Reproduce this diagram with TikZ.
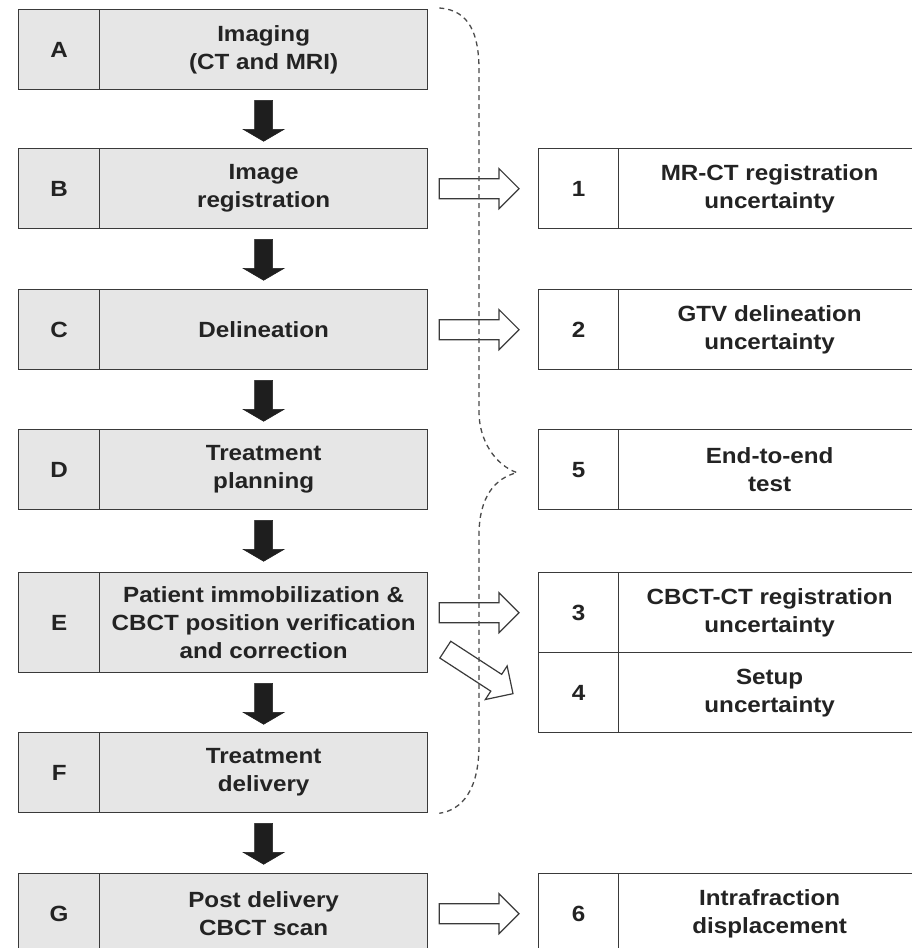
\documentclass[tikz,border=0pt]{standalone}
\usepackage{fontspec}
\newfontfamily\boxfont{Liberation Sans}[FakeStretch=1.1]
\usetikzlibrary{calc}
\definecolor{boxgray}{RGB}{230,230,230}
\definecolor{bordercol}{RGB}{58,58,58}
\definecolor{textcol}{RGB}{35,35,35}
\definecolor{arrowdark}{RGB}{30,30,30}
\definecolor{bracecol}{RGB}{75,75,75}
\newcommand\fatarrow[6]{%
  \coordinate (fa-h) at ($(#2)!#5!(#1)$);
  \draw[#6] ($(#1)!#3!90:(#2)$) -- ($(fa-h)!#3!90:(#2)$) -- ($(fa-h)!#4!90:(#2)$) -- (#2)
    -- ($(fa-h)!#4!-90:(#2)$) -- ($(fa-h)!#3!-90:(#2)$) -- ($(#1)!#3!-90:(#2)$) -- cycle;
}
\tikzset{
  cellbase/.style={draw=bordercol, line width=1.3pt, text=textcol, align=center,
    anchor=north west, inner sep=2pt,
    font=\boxfont\bfseries\fontsize{22pt}{28pt}\selectfont},
  lcell/.style={cellbase, fill=boxgray},
  rcell/.style={cellbase, fill=white},
  darkarrow/.style={fill=arrowdark, draw=arrowdark, line width=0.5pt},
  hollowarrow/.style={fill=white, draw=bordercol, line width=1.2pt, line join=miter},
  bracestyle/.style={draw=bracecol, line width=1.3pt, dash pattern=on 5pt off 4pt}
}
\begin{document}
\begin{tikzpicture}[x=1pt, y=-1pt]
\useasboundingbox[fill=white] (0,0) rectangle (912,948);

% left column
\node[lcell, minimum width=81pt, minimum height=80pt] (Al) at (18,9) {A};
\node[lcell, minimum width=328pt, minimum height=80pt] (A) at (99,9) {Imaging\\(CT and MRI)};
\node[lcell, minimum width=81pt, minimum height=80pt] (Bl) at (18,148) {B};
\node[lcell, minimum width=328pt, minimum height=80pt] (B) at (99,148) {Image\\registration};
\node[lcell, minimum width=81pt, minimum height=80pt] (Cl) at (18,289) {C};
\node[lcell, minimum width=328pt, minimum height=80pt] (C) at (99,289) {Delineation};
\node[lcell, minimum width=81pt, minimum height=80pt] (Dl) at (18,429) {D};
\node[lcell, minimum width=328pt, minimum height=80pt] (D) at (99,429) {Treatment\\planning};
\node[lcell, minimum width=81pt, minimum height=100pt] (El) at (18,572) {E};
\node[lcell, minimum width=328pt, minimum height=100pt] (E) at (99,572) {Patient immobilization \&\\CBCT position verification\\and correction};
\node[lcell, minimum width=81pt, minimum height=80pt] (Fl) at (18,732) {F};
\node[lcell, minimum width=328pt, minimum height=80pt] (F) at (99,732) {Treatment\\delivery};
\node[lcell, minimum width=81pt, minimum height=80pt] (Gl) at (18,873) {G};
\node[lcell, minimum width=328pt, minimum height=80pt] (G) at (99,873) {Post delivery\\CBCT scan};

% right column
\node[rcell, minimum width=80pt, minimum height=80pt] (n1) at (538,148) {1};
\node[rcell, minimum width=302pt, minimum height=80pt] (t1) at (618,148) {MR-CT registration\\uncertainty};
\node[rcell, minimum width=80pt, minimum height=80pt] (n2) at (538,289) {2};
\node[rcell, minimum width=302pt, minimum height=80pt] (t2) at (618,289) {GTV delineation\\uncertainty};
\node[rcell, minimum width=80pt, minimum height=80pt] (n5) at (538,429) {5};
\node[rcell, minimum width=302pt, minimum height=80pt] (t5) at (618,429) {End-to-end\\test};
\node[rcell, minimum width=80pt, minimum height=80pt] (n3) at (538,572) {3};
\node[rcell, minimum width=302pt, minimum height=80pt] (t3) at (618,572) {CBCT-CT registration\\uncertainty};
\node[rcell, minimum width=80pt, minimum height=80pt] (n4) at (538,652) {4};
\node[rcell, minimum width=302pt, minimum height=80pt] (t4) at (618,652) {Setup\\uncertainty};
\node[rcell, minimum width=80pt, minimum height=80pt] (n6) at (538,873) {6};
\node[rcell, minimum width=302pt, minimum height=80pt] (t6) at (618,873) {Intrafraction\\displacement};

% dark flow arrows
\foreach \u/\v in {A/B, B/C, C/D, D/E, E/F, F/G} {
  \coordinate (tl-\u) at ($(\u.south)+(0,10)$);
  \coordinate (tp-\u) at ($(tl-\u)+(0,41)$);
  \fatarrow{tl-\u}{tp-\u}{9pt}{20.5pt}{12pt}{darkarrow}
}

% hollow arrows
\coordinate (hB1) at ($(B.east)+(11,0)$);
\coordinate (hB2) at ($(n1.west)+(-19,0)$);
\fatarrow{hB1}{hB2}{10pt}{20pt}{20pt}{hollowarrow}
\coordinate (hC1) at ($(C.east)+(11,0)$);
\coordinate (hC2) at ($(n2.west)+(-19,0)$);
\fatarrow{hC1}{hC2}{10pt}{20pt}{20pt}{hollowarrow}
\coordinate (hE2) at ($(n3.west)+(-19,0)$);
\coordinate (hE1) at ($(E.east |- hE2)+(11,0)$);
\fatarrow{hE1}{hE2}{10pt}{20pt}{20pt}{hollowarrow}
\coordinate (hD1) at ($(E.east)+(17,27)$);
\coordinate (hD2) at ($(n4.west)+(-25,1)$);
\fatarrow{hD1}{hD2}{10pt}{20pt}{20pt}{hollowarrow}
\coordinate (hG1) at ($(G.east)+(11,0)$);
\coordinate (hG2) at ($(n6.west)+(-19,0)$);
\fatarrow{hG1}{hG2}{10pt}{20pt}{20pt}{hollowarrow}

% dashed brace
\coordinate (brtop) at ($(A.north east)+(11,-1)$);
\coordinate (brtip) at ($(n5.west)+(-21,3)$);
\coordinate (brbot) at ($(F.south east)+(11,0)$);
\draw[bracestyle] (brtop) .. controls (470,10) and (479,35) .. (479,70) -- (479,412)
  .. controls (479,440) and (495,465) .. (brtip)
  .. controls (495,478) and (479,497) .. (479,535) -- (479,745)
  .. controls (479,790) and (462,810) .. (brbot);
\end{tikzpicture}
\end{document}
